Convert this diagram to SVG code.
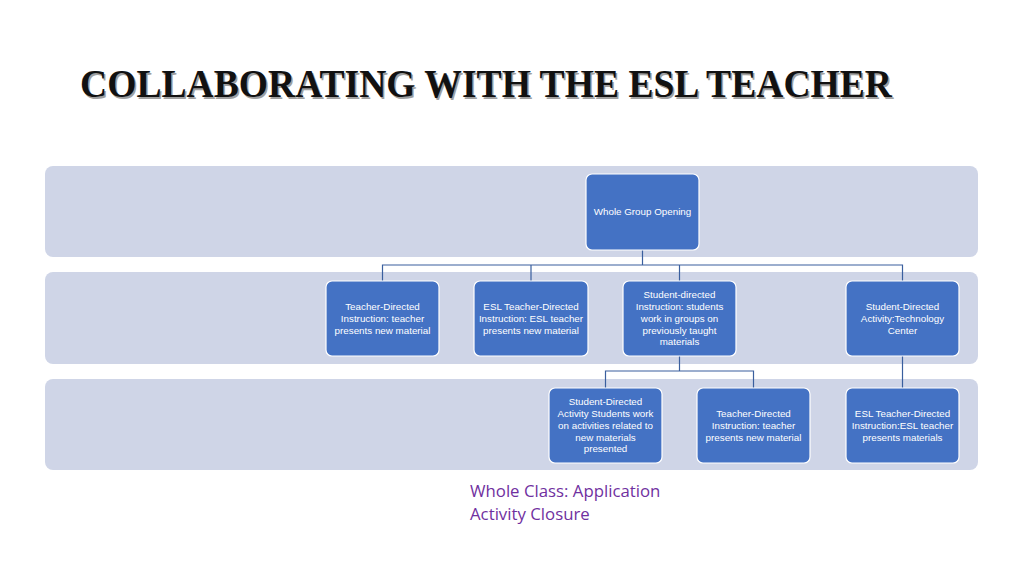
<svg xmlns="http://www.w3.org/2000/svg" width="1024" height="576" viewBox="0 0 1024 576">
<style>
.band{fill:#CFD5E7;}
.node{fill:#4472C4;stroke:#FFFFFF;stroke-width:1.2;}
.nt{font-family:"Liberation Sans",Arial,sans-serif;font-size:9.8px;fill:#FFFFFF;text-anchor:middle;}
.conn{fill:none;stroke:#3A5F9E;stroke-width:1.2;}
.title{font-family:"Liberation Serif","Times New Roman",serif;font-weight:bold;font-size:40px;}
.foot{font-family:"Open Sans","Liberation Sans",sans-serif;font-size:16.8px;fill:#7030A0;}
</style>
<rect width="1024" height="576" fill="#FFFFFF"/>
<g id="title">
<text class="title" x="81.5" y="98.5" fill="#A0A0A0" textLength="812" lengthAdjust="spacingAndGlyphs">COLLABORATING WITH THE ESL TEACHER</text>
<text class="title" x="80" y="97" fill="#111111" textLength="812" lengthAdjust="spacingAndGlyphs">COLLABORATING WITH THE ESL TEACHER</text>
</g>
<g id="bands">
<rect class="band" x="45" y="166" width="933" height="91" rx="8"/>
<rect class="band" x="45" y="272" width="933" height="92" rx="8"/>
<rect class="band" x="45" y="379" width="933" height="91" rx="8"/>
</g>
<g id="connectors">
<path class="conn" d="M642.5 250 V265 M382.5 281 V265 H902.5 V281 M531 265 V281 M679.5 265 V281"/>
<path class="conn" d="M679.5 356 V371 M605.5 388 V371 H753.5 V388"/>
<path class="conn" d="M902.5 356 V388"/>
</g>
<g id="n0">
<rect class="node" x="586" y="174" width="113" height="76" rx="6"/>
<text class="nt" x="642.5" y="215">Whole Group Opening</text>
</g>
<g id="n1">
<rect class="node" x="326" y="281" width="113" height="75" rx="6"/>
<text class="nt" x="382.5" y="309.5">Teacher-Directed</text>
<text class="nt" x="382.5" y="321.5">Instruction: teacher</text>
<text class="nt" x="382.5" y="333.5">presents new material</text>
</g>
<g id="n2">
<rect class="node" x="474" y="281" width="114" height="75" rx="6"/>
<text class="nt" x="531" y="309.5">ESL Teacher-Directed</text>
<text class="nt" x="531" y="321.5">Instruction: ESL teacher</text>
<text class="nt" x="531" y="333.5">presents new material</text>
</g>
<g id="n3">
<rect class="node" x="623" y="281" width="113" height="75" rx="6"/>
<text class="nt" x="679.5" y="298">Student-directed</text>
<text class="nt" x="679.5" y="309.5">Instruction: students</text>
<text class="nt" x="679.5" y="321.5">work in groups on</text>
<text class="nt" x="679.5" y="333.5">previously taught</text>
<text class="nt" x="679.5" y="345">materials</text>
</g>
<g id="n4">
<rect class="node" x="846" y="281" width="113" height="75" rx="6"/>
<text class="nt" x="902.5" y="309.5">Student-Directed</text>
<text class="nt" x="902.5" y="321.5">Activity:Technology</text>
<text class="nt" x="902.5" y="333.5">Center</text>
</g>
<g id="n5">
<rect class="node" x="549" y="388" width="113" height="75" rx="6"/>
<text class="nt" x="605.5" y="405">Student-Directed</text>
<text class="nt" x="605.5" y="416.5">Activity Students work</text>
<text class="nt" x="605.5" y="428.5">on activities related to</text>
<text class="nt" x="605.5" y="440.5">new materials</text>
<text class="nt" x="605.5" y="452">presented</text>
</g>
<g id="n6">
<rect class="node" x="697" y="388" width="113" height="75" rx="6"/>
<text class="nt" x="753.5" y="416.5">Teacher-Directed</text>
<text class="nt" x="753.5" y="428.5">Instruction: teacher</text>
<text class="nt" x="753.5" y="440.5">presents new material</text>
</g>
<g id="n7">
<rect class="node" x="846" y="388" width="113" height="75" rx="6"/>
<text class="nt" x="902.5" y="416.5">ESL Teacher-Directed</text>
<text class="nt" x="902.5" y="428.5">Instruction:ESL teacher</text>
<text class="nt" x="902.5" y="440.5">presents materials</text>
</g>
<g id="footer">
<text class="foot" x="470" y="497">Whole Class: Application</text>
<text class="foot" x="470" y="520">Activity Closure</text>
</g>
</svg>
